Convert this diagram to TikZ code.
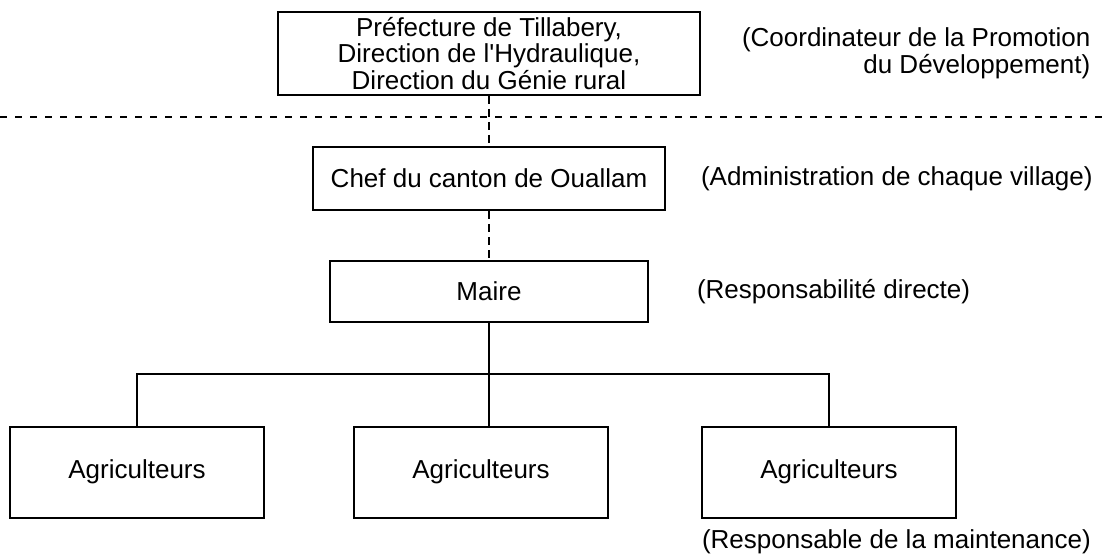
\documentclass[tikz,border=0pt]{standalone}
\usepackage{fontspec}
\setmainfont{Liberation Sans}
\usetikzlibrary{positioning}

\begin{document}
\begin{tikzpicture}[x=0.5pt,y=-0.5pt,line width=1pt,node distance=62.5pt,
	font=\fontsize{13}{11.5}\selectfont,
	box/.style={draw,align=center,inner sep=0pt},
	agri/.style={box,minimum width=127pt,minimum height=45.5pt},
	note/.style={inner sep=0pt,align=right},
	dashline/.style={dash pattern=on 4pt off 2.5pt}]

\useasboundingbox (0,0) rectangle (1104,556);

\node[box,minimum width=211pt,minimum height=41.5pt]	(pref)	at (489,53.5)	{Préfecture de Tillabery,\\Direction de l\textquotesingle Hydraulique,\\Direction du Génie rural};
 \node[box,minimum width=176pt,minimum height=31.5pt]	(chef)	[below of=pref]	{Chef du canton de Ouallam};
 \node[box,minimum width=159pt,minimum height=30.5pt]	(maire)	[below of=chef,node distance=56.5pt]	{Maire};
	\coordinate[below of=maire,node distance=41.25pt]	(fork);
	\node[agri]	(agri2)	[below of=maire,node distance=90.25pt,xshift=-4pt]	{Agriculteurs};
	\node[agri]	(agri1)	[left of=agri2,node distance=172pt]	{Agriculteurs};
	\node[agri]	(agri3)	[right of=agri2,node distance=174pt]	{Agriculteurs};

	\node[note]	(coord)	[right=20pt of pref]	{(Coordinateur de la Promotion\\du Développement)};
	\node[note]	(admin)	[right=17pt of chef]	{(Administration de chaque village)};
	\node[note]	(resp)	[right=23.5pt of maire]	{(Responsabilité directe)};
	\node[note]	(maint)	[below=5pt of agri3.south west,anchor=north west]	{(Responsable de la maintenance)};

	\draw[dash pattern=on 3.5pt off 4pt] (0,117) -- (1104,117);

	\draw[dashline] (pref) -- (chef)
					(chef) -- (maire);
	\draw (maire) -- (fork) -- (fork |- agri2.north)
			(agri1) |- (fork) -| (agri3);
	\end{tikzpicture}
\end{document}
